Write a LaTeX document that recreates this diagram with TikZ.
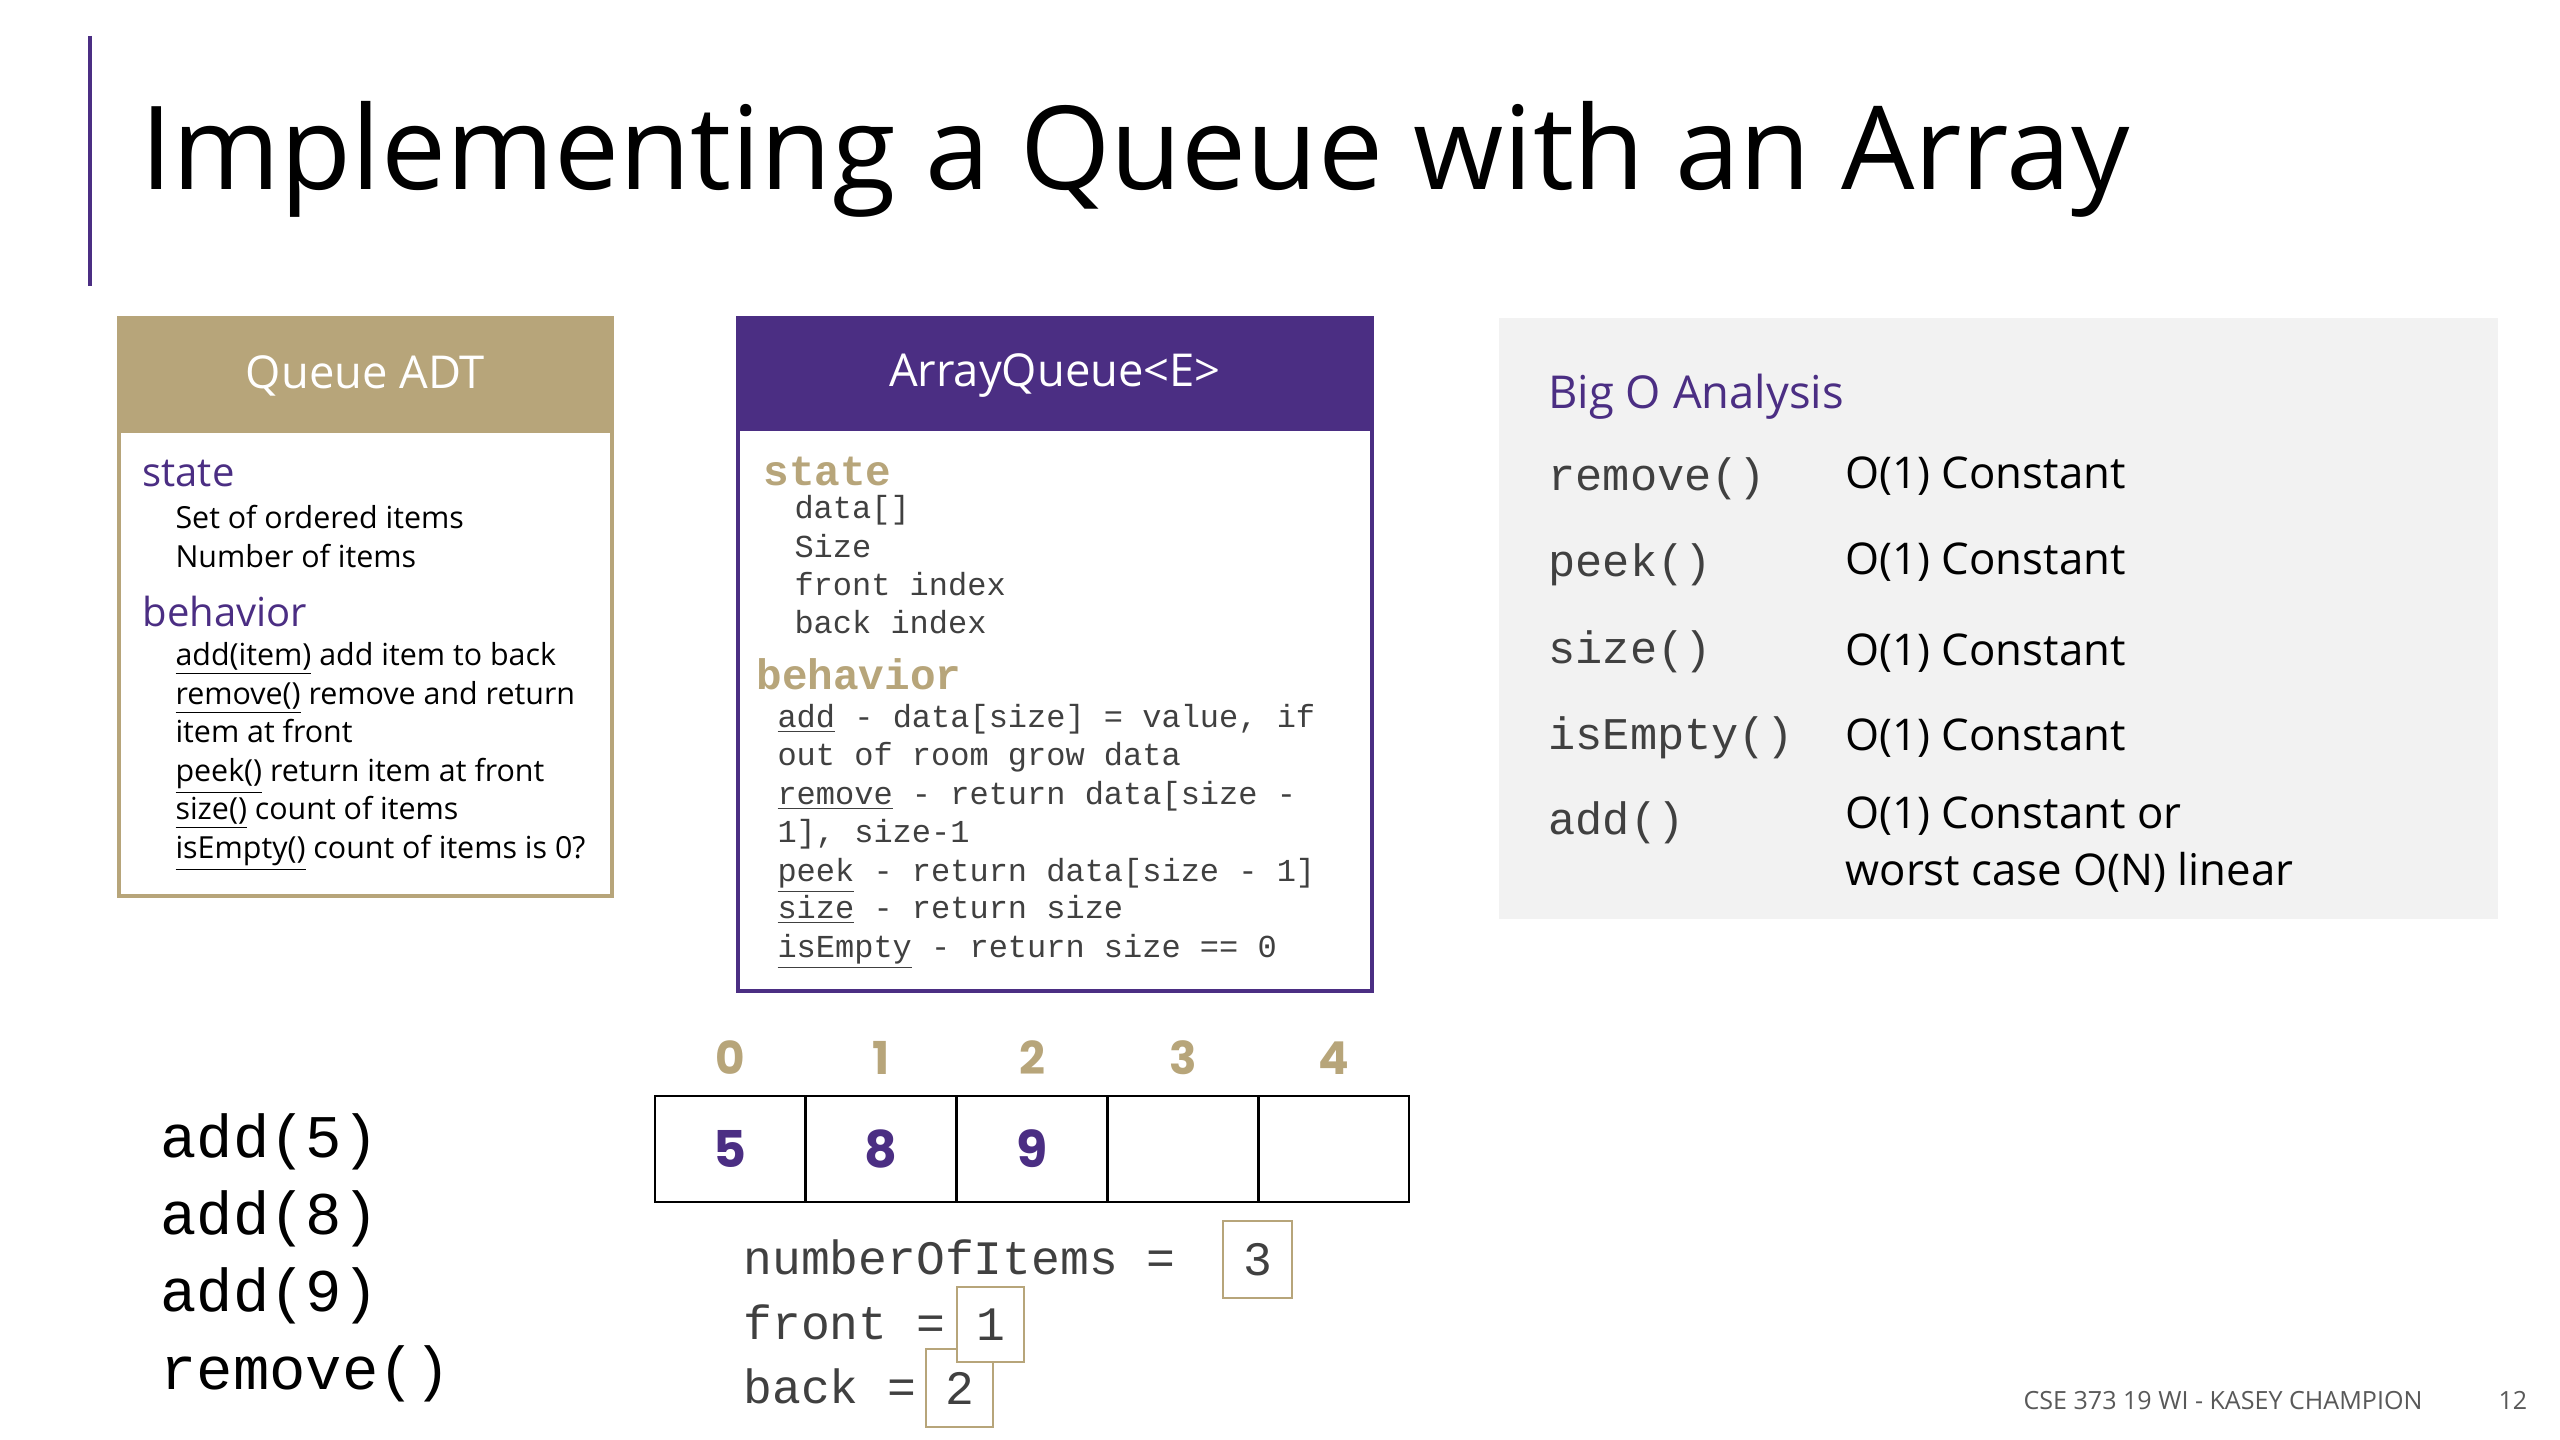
\documentclass[tikz,border=0pt]{standalone}
\usepackage{fontspec}
\setmainfont{Open Sans}
\setmonofont{Liberation Mono}
\newfontfamily\geofont{Poppins}
\definecolor{uwpurple}{HTML}{4B2E83}
\definecolor{uwgold}{HTML}{B7A57A}
\definecolor{mgray}{HTML}{404040}
\definecolor{bggray}{HTML}{F2F2F2}
\definecolor{footgray}{HTML}{595959}
\begin{document}
\begin{tikzpicture}[x=0.375pt,y=-0.375pt,
  txt/.style={anchor=west, inner sep=0pt, text height=1.0em, text depth=0.1em},
  hdr/.style={text=white, inner sep=0pt, font=\fontsize{17}{20}\selectfont},
  qsec/.style={txt, text=uwpurple, font=\fontsize{15}{18}\selectfont},
  qitem/.style={txt, text=black, font=\fontsize{11.4}{14}\selectfont},
  asec/.style={txt, text=uwgold, font=\ttfamily\bfseries\fontsize{16}{18}\selectfont},
  aitem/.style={txt, text=mgray, font=\ttfamily\fontsize{12}{14}\selectfont},
  bsec/.style={txt, text=uwpurple, font=\fontsize{17}{20}\selectfont},
  bcode/.style={txt, text=mgray, font=\ttfamily\fontsize{17}{19}\selectfont},
  btext/.style={txt, text=black, font=\fontsize{16.4}{19}\selectfont},
  cell/.style={draw=black, line width=1pt, minimum width=56.55pt, minimum height=39.75pt, inner sep=0pt,
     text=uwpurple, font=\geofont\bfseries\fontsize{19}{22}\selectfont},
  idx/.style={inner sep=0pt, text=uwgold, font=\geofont\bfseries\fontsize{17}{19}\selectfont},
  vcode/.style={txt, text=mgray, font=\ttfamily\fontsize{18}{20}\selectfont},
  vbox/.style={draw=uwgold, line width=0.8pt, fill=white, inner sep=0pt, text=mgray,
     font=\ttfamily\fontsize{18}{20}\selectfont},
  cmd/.style={txt, text=black, font=\ttfamily\fontsize{22.7}{24}\selectfont},
  foot/.style={txt, text=footgray, font=\fontsize{9.4}{11}\selectfont}
]
\useasboundingbox (0,0) rectangle (2560,1440);
\fill[white] (0,0) rectangle (2560,1440);

% title
\draw[uwpurple, line width=1.2pt] (90,36) -- (90,286);
\node[txt, font=\fontsize{43.5}{48}\selectfont] (title) at (140,178) {Implementing a Queue with an Array};

% Queue ADT box
\draw[uwgold, line width=1.2pt, fill=white] (119,318) rectangle (612,896);
\fill[uwgold] (119,318) rectangle (612,433);
\node[hdr] (qhead) at (365.5,376) {Queue ADT};
\node[qsec] (qstate) at (142,475) {state};
\node[qitem] (q1) at (175,516) {Set of ordered items};
\node[qitem] (q2) at (175,555) {Number of items};
\node[qsec] (qbeh) at (142,614) {behavior};
\node[qitem] (q3) at (175,653) {\underline{add(item)} add item to back};
\node[qitem] (q4) at (175,692) {\underline{remove()} remove and return};
\node[qitem] (q5) at (175,730) {item at front};
\node[qitem] (q6) at (175,769) {\underline{peek()} return item at front};
\node[qitem] (q7) at (175,807) {\underline{size()} count of items};
\node[qitem] (q8) at (175,846) {\underline{isEmpty()} count of items is 0?};

% ArrayQueue box
\draw[uwpurple, line width=1.4pt, fill=white] (738,318) rectangle (1372,991);
\fill[uwpurple] (738,318) rectangle (1372,431);
\node[hdr] (ahead) at (1055,376) {ArrayQueue<E>};
\node[asec] (astate) at (763,473) {state};
\node[aitem] (a1) at (794,507) {data[]};
\node[aitem] (a2) at (794,545) {Size};
\node[aitem] (a3) at (794,583) {front index};
\node[aitem] (a4) at (794,621) {back index};
\node[asec] (abeh) at (756,677) {behavior};
\node[aitem] (a5) at (777,715) {\underline{add} - data[size] = value, if};
\node[aitem] (a6) at (777,753) {out of room grow data};
\node[aitem] (a7) at (777,792) {\underline{remove} - return data[size -};
\node[aitem] (a8) at (777,830) {1], size-1};
\node[aitem] (a9) at (777,869) {\underline{peek} - return data[size - 1]};
\node[aitem] (a10) at (777,906) {\underline{size} - return size};
\node[aitem] (a11) at (777,945) {\underline{isEmpty} - return size == 0};

% Big O box
\fill[bggray] (1499,318) rectangle (2498,919);
\node[bsec] (bhead) at (1548,397) {Big O Analysis};
\node[bcode] (b1) at (1548,478) {remove()};
\node[btext] (r1) at (1845,477) {O(1) Constant};
\node[bcode] (b2) at (1548,564) {peek()};
\node[btext] (r2) at (1845,562) {O(1) Constant};
\node[bcode] (b3) at (1548,651) {size()};
\node[btext] (r3) at (1845,653) {O(1) Constant};
\node[bcode] (b4) at (1548,737) {isEmpty()};
\node[btext] (r4) at (1845,738) {O(1) Constant};
\node[bcode] (b5) at (1548,822) {add()};
\node[btext] (r5) at (1845,816) {O(1) Constant or};
\node[btext] (r6) at (1845,873) {worst case O(N) linear};

% array
\node[idx] (i0) at (730.4,1058) {0};
\node[idx] (i1) at (881.2,1058) {1};
\node[idx] (i2) at (1032,1058) {2};
\node[idx] (i3) at (1182.8,1058) {3};
\node[idx] (i4) at (1333.6,1058) {4};
\node[cell] (c0) at (730.4,1149) {5};
\node[cell] (c1) at (881.2,1149) {8};
\node[cell] (c2) at (1032,1149) {9};
\node[cell] (c3) at (1182.8,1149) {};
\node[cell] (c4) at (1333.6,1149) {};

% variables
\node[vcode] (vn) at (743,1262) {numberOfItems =};
\node[vbox, minimum width=25.9pt, minimum height=28.9pt] (bn) at (1257.5,1259.5) {3};
\node[vcode] (vf) at (743,1327) {front =};
\node[vcode] (vb) at (743,1391) {back =};
\node[vbox, minimum width=25.1pt, minimum height=29.2pt] (bb) at (959.5,1388) {2};
\node[vbox, minimum width=25.1pt, minimum height=28.1pt] (bf) at (990.5,1324.5) {1};

% commands
\node[cmd] (m1) at (160,1145) {add(5)};
\node[cmd] (m2) at (160,1222) {add(8)};
\node[cmd] (m3) at (160,1299) {add(9)};
\node[cmd] (m4) at (160,1377) {remove()};

% footer
\node[foot] (f1) at (2023,1397) {CSE 373 19 WI - KASEY CHAMPION};
\node[foot] (f2) at (2498,1397) {12};
\end{tikzpicture}
\end{document}
